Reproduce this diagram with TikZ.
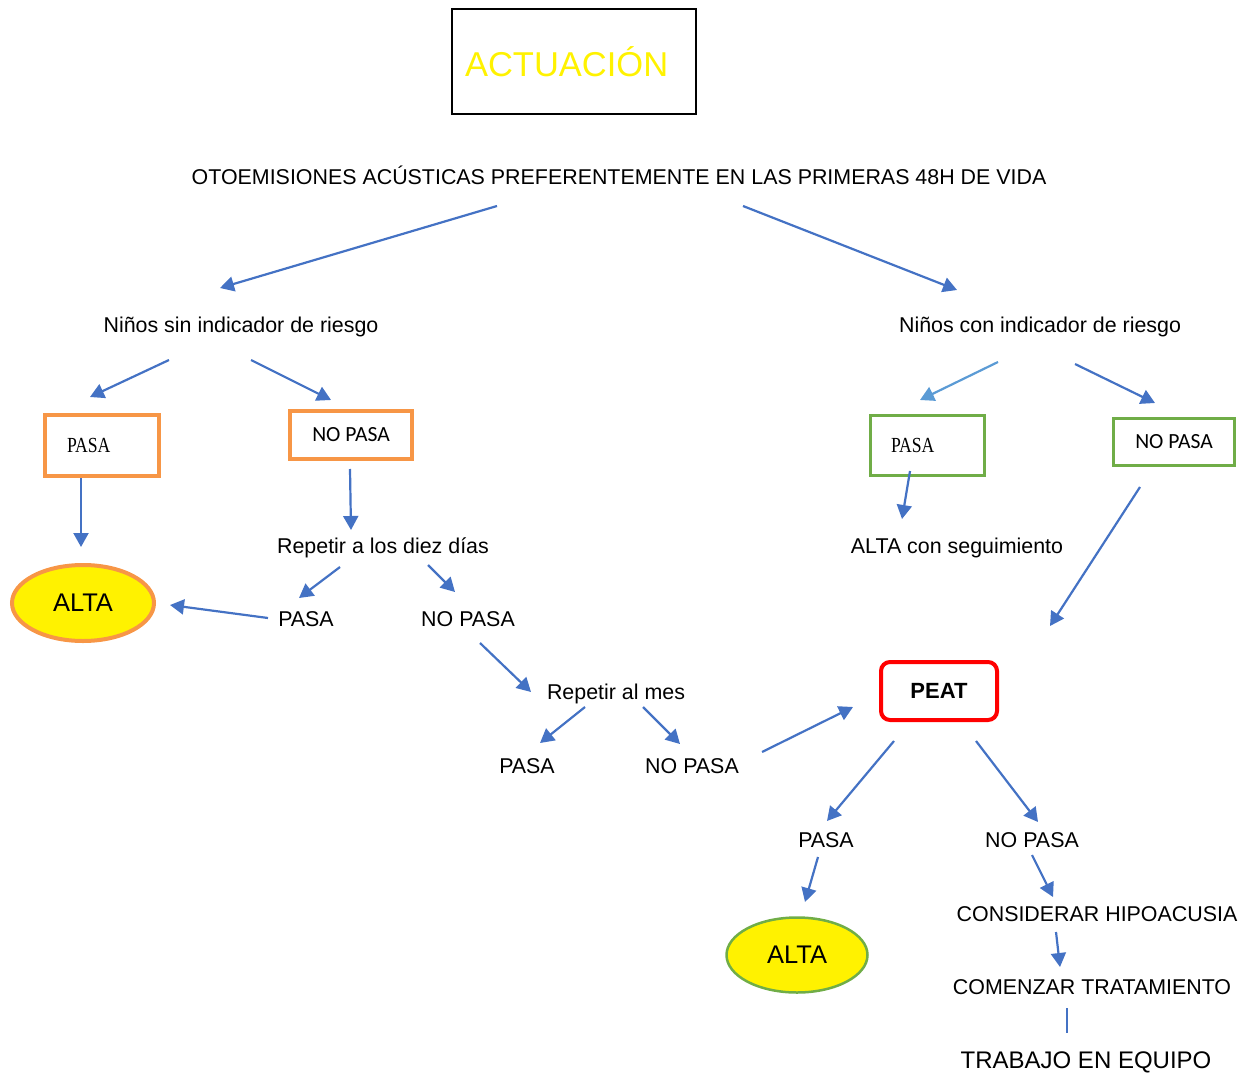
\documentclass[tikz,border=0pt]{standalone}
\usepackage{fontspec}
\setmainfont{Liberation Sans}
\newfontfamily\timesfont[FakeStretch=0.82]{Liberation Serif}
\newfontfamily\calibrifont{Carlito}
\usetikzlibrary{arrows.meta,shapes.geometric}
\definecolor{flecha}{HTML}{4472C4}
\definecolor{flechaclara}{HTML}{5B9BD5}
\definecolor{naranja}{HTML}{F79646}
\definecolor{verde}{HTML}{70AD47}
\tikzset{
  texto/.style={font=\fontsize{21.4}{25}\selectfont, inner sep=0pt, text height=15.3pt, text depth=0pt},
  flechas/.style={draw=flecha, line width=2.2pt, -{Triangle[length=14pt,width=15pt]}},
  cajanaranja/.style={draw=naranja, line width=4pt, minimum width=114pt, minimum height=61pt},
  cajaverde/.style={draw=verde, line width=3pt},
  alta/.style={ellipse, fill=yellow, inner sep=0pt, font=\fontsize{25.5}{30}\selectfont},
}
\begin{document}
\begin{tikzpicture}[x=1pt,y=-1pt]
  \useasboundingbox (0,0) rectangle (1246,1075);
  \draw
    (574,61.5) node[draw=black, line width=2pt, minimum width=244pt, minimum height=105pt,
      text width=218pt, inner xsep=13pt, align=left, text=yellow,
      font=\fontsize{34.5}{40}\selectfont] (titulo){ACTUACIÓN}
    (619,177) node[texto] (otoe){OTOEMISIONES ACÚSTICAS PREFERENTEMENTE EN LAS PRIMERAS 48H DE VIDA}
    (241,325) node[texto] (sin){Niños sin indicador de riesgo}
    (1040,325) node[texto] (con){Niños con indicador de riesgo}
    (102,445.5) node[cajanaranja, text width=70pt, inner xsep=22pt, align=left,
      font=\timesfont\fontsize{21.5}{25}\selectfont] (pasa1){PASA}
    (351,435) node[cajanaranja, minimum width=122pt, minimum height=48pt,
      font=\calibrifont\fontsize{21.6}{25}\selectfont] (nopasa1){NO PASA}
    (927.5,445.5) node[cajaverde, minimum width=114pt, minimum height=60pt, text width=73pt,
      inner xsep=20.5pt, align=left, font=\timesfont\fontsize{21.5}{25}\selectfont] (pasa2){PASA}
    (1174,442) node[cajaverde, minimum width=121pt, minimum height=47pt,
      font=\calibrifont\fontsize{21.6}{25}\selectfont] (nopasa2){NO PASA}
    (83,603) node[alta, draw=naranja, line width=4pt, minimum width=142pt, minimum height=76pt] (alta1){ALTA}
    (383,546) node[texto] (rep10){Repetir a los diez días}
    (306,619) node[texto] (pasa3){PASA}
    (468,619) node[texto] (nopasa3){NO PASA}
    (616,692) node[texto] (repmes){Repetir al mes}
    (527,766) node[texto] (pasa4){PASA}
    (692,766) node[texto] (nopasa4){NO PASA}
    (957,546) node[texto] (seguim){ALTA con seguimiento}
    (939,691) node[draw=red, line width=4pt, rounded corners=9pt, minimum width=116pt,
      minimum height=58pt, font=\bfseries\fontsize{22}{26}\selectfont] (peat){PEAT}
    (826,840) node[texto] (pasa5){PASA}
    (1032,840) node[texto] (nopasa5){NO PASA}
    (797,955) node[alta, draw=verde, line width=2.5pt, minimum width=141pt, minimum height=75pt] (alta2){ALTA}
    (1097,914) node[texto] (hipo){CONSIDERAR HIPOACUSIA}
    (1092,987) node[texto] (trat){COMENZAR TRATAMIENTO}
    (1086,1060) node[texto, font=\fontsize{24}{28}\selectfont, text height=17pt] (equipo){TRABAJO EN EQUIPO};
  \path
    (497,206) coordinate (otoe-i) (743,206) coordinate (otoe-d)
    (220,288) coordinate (sin-a) (957,290) coordinate (con-a)
    (169,360) coordinate (sin-i) (251,360) coordinate (sin-d)
    (90,397) coordinate (pasa1-a) (331,400) coordinate (nopasa1-a)
    (998,362) coordinate (con-i) (1075,364) coordinate (con-d)
    (920,400) coordinate (pasa2-a) (1155,403) coordinate (nopasa2-a)
    (81,478) coordinate (pasa1-b) (81,547) coordinate (alta1-a)
    (350,469) coordinate (nopasa1-b) (351,530) coordinate (rep10-a)
    (340,567) coordinate (rep10-i) (428,565) coordinate (rep10-d)
    (299,598) coordinate (pasa3-a) (455,592) coordinate (nopasa3-a)
    (268,618) coordinate (pasa3-b) (170,605) coordinate (alta1-b)
    (480,643) coordinate (nopasa3-b) (531,692) coordinate (repmes-a)
    (585,707) coordinate (repmes-i) (643,707) coordinate (repmes-d)
    (540,743) coordinate (pasa4-a) (680,744) coordinate (nopasa4-a)
    (762,752) coordinate (nopasa4-b) (853,707) coordinate (peat-a)
    (910,471) coordinate (pasa2-b) (902,519) coordinate (seguim-a)
    (1140,487) coordinate (nopasa2-b) (1050,626) coordinate (peat-b)
    (894,741) coordinate (peat-i) (976,741) coordinate (peat-d)
    (827,821) coordinate (pasa5-a) (1038,822) coordinate (nopasa5-a)
    (818,857) coordinate (pasa5-b) (805,902) coordinate (alta2-a)
    (1032,855) coordinate (nopasa5-b) (1053,897) coordinate (hipo-a)
    (1056,932) coordinate (hipo-b) (1060,967) coordinate (trat-a)
    (1067,1008) coordinate (trat-b) (1067,1033) coordinate (equipo-a);
  \begin{scope}[flechas]
    \draw (otoe-i) to (sin-a);
    \draw (otoe-d) to (con-a);
    \draw (sin-i) to (pasa1-a);
    \draw (sin-d) to (nopasa1-a);
    \draw[draw=flechaclara] (con-i) to (pasa2-a);
    \draw (con-d) to (nopasa2-a);
    \draw (pasa1-b) to (alta1-a);
    \draw (nopasa1-b) to (rep10-a);
    \draw (rep10-i) to (pasa3-a);
    \draw (rep10-d) to (nopasa3-a);
    \draw (pasa3-b) to (alta1-b);
    \draw (nopasa3-b) to (repmes-a);
    \draw (repmes-i) to (pasa4-a);
    \draw (repmes-d) to (nopasa4-a);
    \draw (nopasa4-b) to (peat-a);
    \draw (pasa2-b) to (seguim-a);
    \draw (nopasa2-b) to (peat-b);
    \draw (peat-i) to (pasa5-a);
    \draw (peat-d) to (nopasa5-a);
    \draw (pasa5-b) to (alta2-a);
    \draw (nopasa5-b) to (hipo-a);
    \draw (hipo-b) to (trat-a);
    \draw[-] (trat-b) to (equipo-a);
  \end{scope}
\end{tikzpicture}
\end{document}
